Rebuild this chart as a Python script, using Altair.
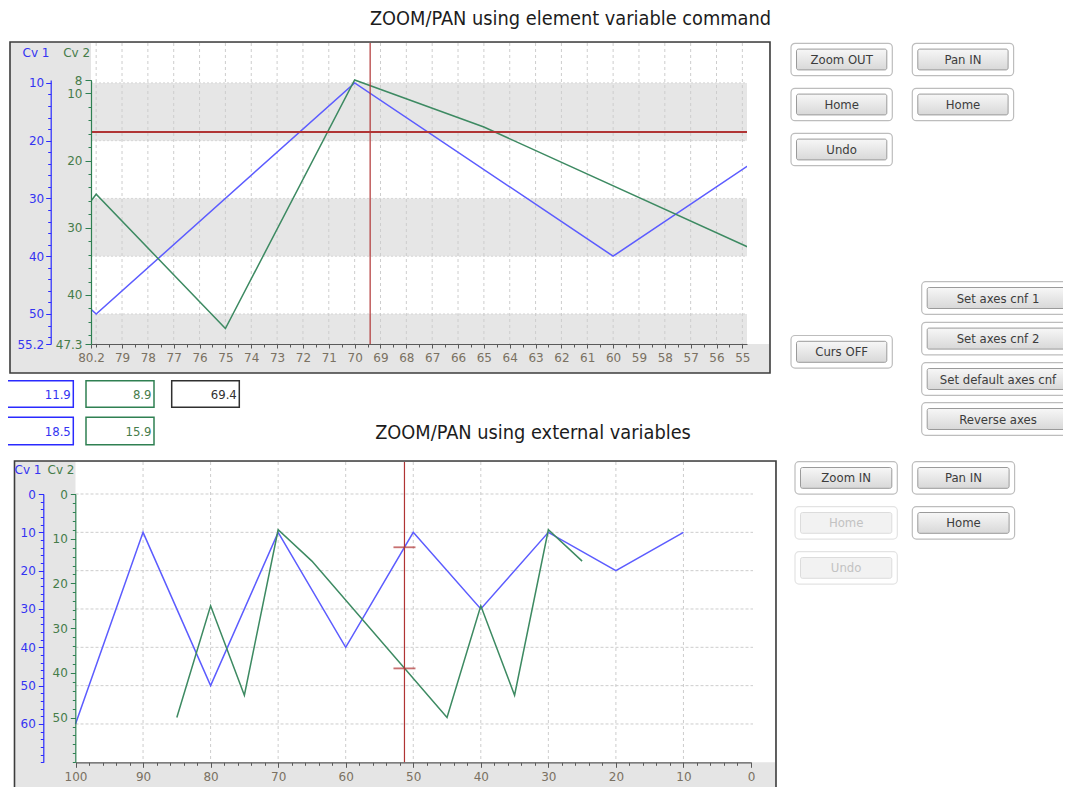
import altair as alt
import pandas as pd

# ---------------- series values ----------------
cv1_x = [100, 90, 80, 70, 60, 50, 40, 30, 20, 10]
cv1_val = [60, 10, 50, 10, 40, 10, 30, 10, 20, 10]
cv2_x = [85, 80, 75, 70, 65, 45, 40, 35, 30, 25]
cv2_val = [50, 25, 45, 8, 15, 50, 25, 45, 8, 15]

# ---------------- top chart (zoomed view) ----------------
top_x_domain = [80.2, 54.82]
top_cv1_domain = [9.5, 55.2]
top_cv2_domain = [8, 47.3]
top_x_ticks = [80.2] + list(range(79, 54, -1))
top_x_grid = list(range(80, 54, -1))
top_cv1_ticks = [10, 20, 30, 40, 50, 55.2]
top_cv2_ticks = [8, 10, 20, 30, 40, 47.3]
top_band_from = [10, 30, 50]
top_band_to = [20, 40, 55.2]
top_band_edges = [10, 20, 30, 40, 50]
top_cursor_x = [69.4]
top_cursor_cv1 = [18.5]

# ---------------- bottom chart ----------------
bot_x_domain = [100, 0]
bot_cv1_domain = [0, 70]
bot_cv2_domain = [0, 60]
bot_x_ticks = [100, 90, 80, 70, 60, 50, 40, 30, 20, 10, 0]
bot_x_grid = [90, 80, 70, 60, 50, 40, 30, 20, 10]
bot_cv1_ticks = [0, 10, 20, 30, 40, 50, 60]
bot_cv2_ticks = [0, 10, 20, 30, 40, 50]
bot_cursor_x = [51.3]
bot_cursor_cv1 = [13.9]
bot_cursor_cv2 = [39.0]

# ---------------- readouts, buttons, titles ----------------
readout_row1 = ["11.9", "8.9", "69.4"]
readout_row2 = ["18.5", "15.9"]
top_buttons = ["Zoom OUT", "Pan IN", "Home", "Home", "Undo"]
cursor_button = ["Curs OFF"]
cfg_buttons = ["Set axes cnf 1", "Set axes cnf 2", "Set default axes cnf", "Reverse axes"]
bot_buttons = ["Zoom IN", "Pan IN", "Home", "Home", "Undo"]
bot_buttons_enabled = [True, True, False, True, False]
titles = ["ZOOM/PAN using element variable command", "ZOOM/PAN using external variables"]
axis_names = ["Cv 1", "Cv 2"]

# ---------------- style / layout ----------------
FONT = "DejaVu Sans Condensed, DejaVu Sans"
AXFONT = "DejaVu Sans"
BLUE_LINE = "#5c5cff"
GREEN_LINE = "#3d8a62"
BLUE_AX = "#2a2aff"
GREEN_AX = "#2f8052"
BLUE_TXT = "#3434f2"
GREEN_TXT = "#457c4a"
XLAB = "#7a7162"
RED = "#b03434"
GRID = "#cdcdcd"
ZONE = "#e5e5e5"

VX0, VY0 = 91, 43            # page position of the view (top plot area)
W, H = 656, 301
SVG_W, SVG_H = 1055, 779
PAD = {"left": VX0 - 8, "top": VY0 - 8,
       "right": SVG_W - (VX0 - 8) - W, "bottom": SVG_H - (VY0 - 8) - H}


def px(p):
    return p - VX0


def py(p):
    return p - VY0


SX = alt.Scale(domain=[0, 1000], range=[px(0), px(1000)], nice=False, zero=False)
SY = alt.Scale(domain=[0, 1000], range=[py(0), py(1000)], nice=False, zero=False)

TX = alt.Scale(domain=top_x_domain, range=[0, W], nice=False, zero=False)
TY1 = alt.Scale(domain=top_cv1_domain, range=[py(80), py(344)], nice=False, zero=False)
TY2 = alt.Scale(domain=top_cv2_domain, range=[py(80), py(344)], nice=False, zero=False)
BX = alt.Scale(domain=bot_x_domain, range=[px(75.5), px(751)], nice=False, zero=False)
BY1 = alt.Scale(domain=bot_cv1_domain, range=[py(494), py(762.3)], nice=False, zero=False)
BY2 = alt.Scale(domain=bot_cv2_domain, range=[py(494), py(762.3)], nice=False, zero=False)


def axis(orient, offset, values, color, lab_color=None, tick=4, pad=2, labels=True,
         domain=True, size=12):
    kw = dict(orient=orient, offset=offset, values=values, grid=False, title=None,
              tickSize=tick, tickColor=color, tickWidth=1, ticks=True,
              domain=domain, domainColor=color, domainWidth=1.2, labels=labels, zindex=2)
    if labels:
        kw.update(format=".3~g", labelColor=lab_color, labelPadding=pad, labelFont=AXFONT,
                  labelFontSize=size, labelFlush=False, labelOverlap=False, labelBound=False)
    return alt.Axis(**kw)


dummy = pd.DataFrame({"v": [0]})


def axis_layer(xenc=None, yenc=None):
    enc = {}
    if xenc is not None:
        enc["x"] = xenc
    if yenc is not None:
        enc["y"] = yenc
    return alt.Chart(dummy).mark_point(opacity=0).encode(**enc)


def rect_layer(df, extra=None, **mark):
    enc = dict(x=alt.X("x0:Q", scale=SX, axis=None), x2="x1:Q",
               y=alt.Y("y0:Q", scale=SY, axis=None), y2="y1:Q")
    if extra:
        enc.update(extra)
    return alt.Chart(df).mark_rect(**mark).encode(**enc)


def text_layer(df, extra=None, font=FONT, **mark):
    enc = dict(x=alt.X("tx:Q", scale=SX, axis=None),
               y=alt.Y("ty:Q", scale=SY, axis=None), text="t:N")
    if extra:
        enc.update(extra)
    return alt.Chart(df).mark_text(font=font, **mark).encode(**enc)


layers = []

# ---- frames and zones ----
frames = pd.DataFrame({"x0": [10, 14.5], "x1": [770, 776], "y0": [42, 461], "y1": [373, 800]})
layers.append(rect_layer(frames, fill=ZONE, stroke="#3c3c3c", strokeWidth=1.6))
plots = pd.DataFrame({"x0": [91, 75.5], "x1": [769, 775], "y0": [43, 462], "y1": [344, 762.3]})
layers.append(rect_layer(plots, fill="white"))

# ---- top chart ----
bands = pd.DataFrame({"lo": top_band_from, "hi": top_band_to})
layers.append(alt.Chart(bands).mark_rect(fill="#e6e6e6").encode(
    y=alt.Y("lo:Q", scale=TY1, axis=None), y2="hi:Q", x=alt.value(0), x2=alt.value(W)))
layers.append(alt.Chart(pd.DataFrame({"v": top_band_edges})).mark_rule(
    color="#d6d6d6", strokeDash=[2, 2], strokeWidth=1).encode(
    y=alt.Y("v:Q", scale=TY1, axis=None), x=alt.value(0), x2=alt.value(W)))
layers.append(alt.Chart(pd.DataFrame({"v": top_x_grid})).mark_rule(
    color=GRID, strokeDash=[3, 3], strokeWidth=1).encode(
    x=alt.X("v:Q", scale=TX, axis=None), y=alt.value(0), y2=alt.value(H)))

top_cv1 = pd.DataFrame({"x": cv1_x, "v": cv1_val})
top_cv2 = pd.DataFrame({"x": cv2_x, "v": cv2_val})
layers.append(alt.Chart(top_cv1).mark_line(clip=True, color=BLUE_LINE, strokeWidth=1.5).encode(
    x=alt.X("x:Q", scale=TX, axis=None), y=alt.Y("v:Q", scale=TY1, axis=None)))
layers.append(alt.Chart(top_cv2).mark_line(clip=True, color=GREEN_LINE, strokeWidth=1.5).encode(
    x=alt.X("x:Q", scale=TX, axis=None), y=alt.Y("v:Q", scale=TY2, axis=None)))

layers.append(alt.Chart(pd.DataFrame({"v": top_cursor_x})).mark_rule(color=RED, strokeWidth=1.2).encode(
    x=alt.X("v:Q", scale=TX, axis=None), y=alt.value(0), y2=alt.value(H)))
layers.append(alt.Chart(pd.DataFrame({"v": top_cursor_cv1})).mark_rule(color=RED, strokeWidth=2).encode(
    y=alt.Y("v:Q", scale=TY1, axis=None), x=alt.value(0), x2=alt.value(W)))

# top axes
layers.append(axis_layer(
    xenc=alt.X("v:Q", scale=TX, axis=axis("bottom", 0, top_x_ticks, "#5a5a5a", XLAB, tick=4, pad=4)),
    yenc=alt.Y("v:Q", scale=TY1, axis=axis("left", VX0 - 50.7, top_cv1_ticks, BLUE_AX, BLUE_TXT, tick=5, pad=2))))
layers.append(axis_layer(
    xenc=alt.X("v:Q", scale=TX, axis=axis("bottom", 0, [v / 2 for v in range(110, 161)], "#5a5a5a",
                                          tick=3, labels=False, domain=False)),
    yenc=alt.Y("v:Q", scale=TY2, axis=axis("left", 0, top_cv2_ticks, GREEN_AX, GREEN_TXT, tick=6, pad=3))))
layers.append(axis_layer(
    yenc=alt.Y("v:Q", scale=TY1, axis=axis("left", VX0 - 50.7, list(range(10, 56, 2)), BLUE_AX,
                                           tick=3, labels=False, domain=False))))
layers.append(axis_layer(
    yenc=alt.Y("v:Q", scale=TY2, axis=axis("left", 0, list(range(8, 48, 2)), GREEN_AX,
                                           tick=3, labels=False, domain=False))))

# ---- bottom chart ----
layers.append(alt.Chart(pd.DataFrame({"v": bot_cv1_ticks})).mark_rule(
    color=GRID, strokeDash=[3, 2], strokeWidth=1).encode(
    y=alt.Y("v:Q", scale=BY1, axis=None), x=alt.value(px(75.5)), x2=alt.value(px(753))))
layers.append(alt.Chart(pd.DataFrame({"v": bot_x_grid})).mark_rule(
    color=GRID, strokeDash=[3, 3], strokeWidth=1).encode(
    x=alt.X("v:Q", scale=BX, axis=None), y=alt.value(py(462)), y2=alt.value(py(762.3))))

layers.append(alt.Chart(top_cv1).mark_line(color=BLUE_LINE, strokeWidth=1.5).encode(
    x=alt.X("x:Q", scale=BX, axis=None), y=alt.Y("v:Q", scale=BY1, axis=None)))
layers.append(alt.Chart(top_cv2).mark_line(color=GREEN_LINE, strokeWidth=1.5).encode(
    x=alt.X("x:Q", scale=BX, axis=None), y=alt.Y("v:Q", scale=BY2, axis=None)))

layers.append(alt.Chart(pd.DataFrame({"v": bot_cursor_x})).mark_rule(color=RED, strokeWidth=1.2).encode(
    x=alt.X("v:Q", scale=BX, axis=None), y=alt.value(py(462)), y2=alt.value(py(762.3))))
layers.append(alt.Chart(pd.DataFrame({"x": bot_cursor_x, "v": bot_cursor_cv1})).mark_tick(
    orient="horizontal", size=22, thickness=1.8, color=RED).encode(
    x=alt.X("x:Q", scale=BX, axis=None), y=alt.Y("v:Q", scale=BY1, axis=None)))
layers.append(alt.Chart(pd.DataFrame({"x": bot_cursor_x, "v": bot_cursor_cv2})).mark_tick(
    orient="horizontal", size=22, thickness=1.8, color=RED).encode(
    x=alt.X("x:Q", scale=BX, axis=None), y=alt.Y("v:Q", scale=BY2, axis=None)))

BOT_X_OFF = py(762.3) - H
layers.append(axis_layer(
    xenc=alt.X("v:Q", scale=BX, axis=axis("bottom", BOT_X_OFF, bot_x_ticks, "#5a5a5a", XLAB, tick=5, pad=4)),
    yenc=alt.Y("v:Q", scale=BY1, axis=axis("left", VX0 - 43.3, bot_cv1_ticks, BLUE_AX, BLUE_TXT, tick=5, pad=3))))
layers.append(axis_layer(
    xenc=alt.X("v:Q", scale=BX, axis=axis("bottom", BOT_X_OFF, list(range(0, 101, 2)), "#5a5a5a",
                                          tick=3, labels=False, domain=False)),
    yenc=alt.Y("v:Q", scale=BY2, axis=axis("left", VX0 - 75.3, bot_cv2_ticks, GREEN_AX, GREEN_TXT, tick=5, pad=3))))
layers.append(axis_layer(
    yenc=alt.Y("v:Q", scale=BY1, axis=axis("left", VX0 - 43.3, list(range(0, 71, 2)), BLUE_AX,
                                           tick=3, labels=False, domain=False))))
layers.append(axis_layer(
    yenc=alt.Y("v:Q", scale=BY2, axis=axis("left", VX0 - 75.3, list(range(0, 61, 2)), GREEN_AX,
                                           tick=3, labels=False, domain=False))))

# ---- axis name labels ----
cv_lab = pd.DataFrame({"tx": [36, 76.7, 28, 61], "ty": [53, 53, 470, 470],
                       "t": axis_names * 2, "c": [BLUE_TXT, GREEN_TXT, BLUE_TXT, GREEN_TXT]})
layers.append(text_layer(cv_lab, extra={"color": alt.Color("c:N", scale=None)}, font=AXFONT,
                         fontSize=12, align="center", baseline="middle"))

# ---- titles ----
title_df = pd.DataFrame({"tx": [570.5, 533], "ty": [19, 433], "t": titles})
layers.append(text_layer(title_df, fontSize=19.8, align="center", baseline="middle", color="#1c1c1c"))

# ---- readout boxes ----
box_cols = [(5, 73.3), (86, 154), (171.7, 239.3)]
box_rows = [(380.7, 407.3), (417.3, 444.7)]
box_colors = [BLUE_AX, GREEN_AX, "#303030"]
txt_colors = [BLUE_TXT, GREEN_TXT, "#303030"]
rb = []
for r, vals in enumerate([readout_row1, readout_row2]):
    for c, val in enumerate(vals):
        rb.append(dict(x0=box_cols[c][0], x1=box_cols[c][1], y0=box_rows[r][0], y1=box_rows[r][1],
                       tx=box_cols[c][1] - 2.5, ty=(box_rows[r][0] + box_rows[r][1]) / 2 + 0.5,
                       t=val, s=box_colors[c], c=txt_colors[c]))
rb = pd.DataFrame(rb)
layers.append(rect_layer(rb, extra={"stroke": alt.Stroke("s:N", scale=None)}, fill="white", strokeWidth=1.5))
layers.append(text_layer(rb, extra={"color": alt.Color("c:N", scale=None)},
                         fontSize=13, align="right", baseline="middle"))

# ---- buttons ----
btn = []


def add_buttons(labels, xs, ys, w, h, enabled, text_x=None):
    for i, lab in enumerate(labels):
        x, y = xs[i], ys[i]
        btn.append(dict(x0=x, x1=x + w, y0=y, y1=y + h,
                        ix0=x + 5.5, ix1=x + w - 5.5, iy0=y + 5.8, iy1=y + h - 5.8,
                        tx=(text_x if text_x is not None else x + w / 2), ty=y + h / 2 + 0.5,
                        t=lab, en=enabled[i]))


add_buttons(top_buttons, [791, 912.3, 791, 912.3, 791], [43.3, 43.3, 88.3, 88.3, 133.3],
            101.3, 32.4, [True] * 5)
add_buttons(cursor_button, [791], [335.5], 101.3, 32.6, [True])
add_buttons(cfg_buttons, [921.7] * 4, [281.7, 322.3, 362.7, 402.7], 160, 32.6, [True] * 4, text_x=998)
add_buttons(bot_buttons, [795, 912.3, 795, 912.3, 795], [461.7, 461.7, 506.7, 506.7, 551.7],
            102.3, 32.4, bot_buttons_enabled)
btn = pd.DataFrame(btn)
btn_on = btn[btn["en"]]
btn_off = btn[~btn["en"]]

grad = alt.Gradient(gradient="linear",
                    stops=[alt.GradientStop(color="#f7f7f7", offset=0),
                           alt.GradientStop(color="#d8d8d8", offset=1)],
                    x1=0, x2=0, y1=0, y2=1)


def inner_layer(df, **mark):
    return alt.Chart(df).mark_rect(**mark).encode(
        x=alt.X("ix0:Q", scale=SX, axis=None), x2="ix1:Q",
        y=alt.Y("iy0:Q", scale=SY, axis=None), y2="iy1:Q")


layers.append(rect_layer(btn_on, fill="white", stroke="#bdbdbd", strokeWidth=1.2, cornerRadius=4))
layers.append(rect_layer(btn_off, fill="white", stroke="#e3e3e3", strokeWidth=1.2, cornerRadius=4))
layers.append(inner_layer(btn_on, fill=grad, stroke="#9a9a9a", strokeWidth=1, cornerRadius=2))
layers.append(inner_layer(btn_off, fill="#f2f2f2", stroke="#dcdcdc", strokeWidth=1, cornerRadius=2))
layers.append(text_layer(btn_on, fontSize=13, align="center", baseline="middle", color="#3c3c3c"))
layers.append(text_layer(btn_off, fontSize=13, align="center", baseline="middle", color="#c2c2c2"))

chart = alt.layer(*layers).resolve_scale(x="independent", y="independent").properties(
    width=W, height=H, padding=PAD, autosize=alt.AutoSizeParams(type="none"), background="white"
).configure_view(strokeWidth=0)

chart.save("out.html", embed_options={"renderer": "svg", "actions": False})
